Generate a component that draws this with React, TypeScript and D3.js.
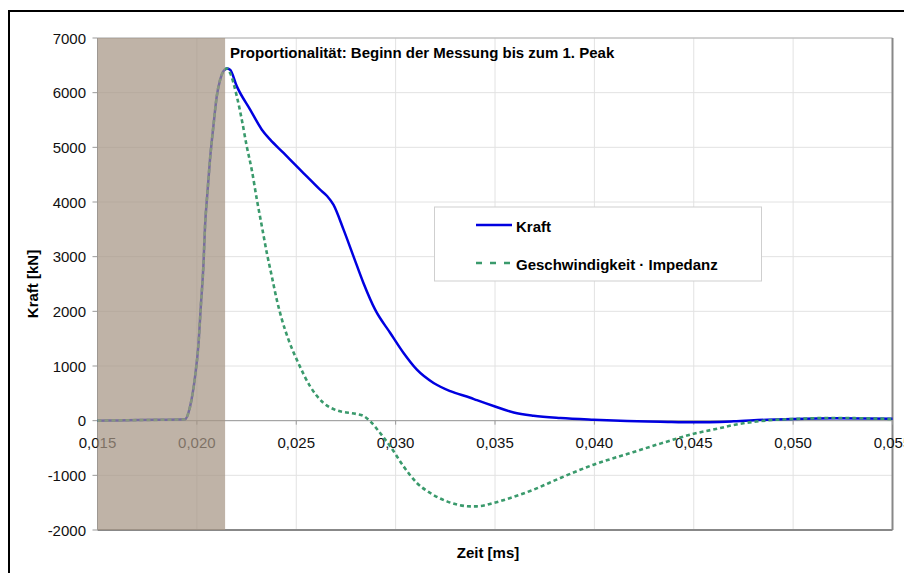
import * as d3 from "d3";

// Zeitachse (ms) und Kraftachse (kN)
const xTicks = [0.015, 0.02, 0.025, 0.03, 0.035, 0.04, 0.045, 0.05, 0.055];
const yTicks = [-2000, -1000, 0, 1000, 2000, 3000, 4000, 5000, 6000, 7000];

// Bereich Proportionalität (Beginn der Messung bis zum 1. Peak)
const shadeRange = [0.015, 0.02142];

// Kraft
const kraftT = [
  0.015, 0.016, 0.017, 0.018, 0.019, 0.0194, 0.01966, 0.01991, 0.02008, 0.0202,
  0.02033, 0.02041, 0.02053, 0.02066, 0.02083, 0.021, 0.02117, 0.02133, 0.02151,
  0.02167, 0.02201, 0.02268, 0.02327, 0.02369, 0.02436, 0.02469, 0.02519, 0.02553,
  0.0262, 0.02655, 0.02687, 0.02738, 0.02788, 0.02838, 0.02897, 0.02973, 0.0304, 0.03107,
  0.03191, 0.03275, 0.03376, 0.03409, 0.03493, 0.03594, 0.03694, 0.03829, 0.03996,
  0.04165, 0.04332, 0.045, 0.047, 0.04871, 0.05002, 0.05204, 0.055,
];
const kraftV = [
  0, 5, 10, 15, 20, 25, 262, 810, 1400, 2100,
  2850, 3554, 4165, 4774, 5383, 5932, 6237, 6389, 6440,
  6420, 6115, 5690, 5323, 5140, 4897, 4774, 4591, 4469,
  4225, 4110, 3950, 3494, 3006, 2519, 2030, 1604, 1238, 933,
  690, 540, 420, 375, 268, 150, 91, 49, 18,
  -5, -18, -31, -12, 18, 31, 42, 37,
];

// Geschwindigkeit · Impedanz
const geschT = [
  0.015, 0.016, 0.017, 0.018, 0.019, 0.0194, 0.01966, 0.01991, 0.02008, 0.0202,
  0.02033, 0.02041, 0.02053, 0.02066, 0.02083, 0.021, 0.02117, 0.02133, 0.02151,
  0.02167, 0.02201, 0.02226, 0.02251, 0.02276, 0.02302, 0.02327, 0.02352, 0.02377,
  0.02402, 0.02428, 0.02461, 0.02511, 0.0257, 0.02637, 0.02704, 0.02805, 0.02837,
  0.02872, 0.02922, 0.02973, 0.0304, 0.03107, 0.03174, 0.03258, 0.03376, 0.03409,
  0.03493, 0.03577, 0.03694, 0.03829, 0.03996, 0.04165, 0.04332, 0.045, 0.04634,
  0.047, 0.04871, 0.05002, 0.05204, 0.055,
];
const geschV = [
  0, 5, 10, 15, 20, 25, 262, 810, 1400, 2100,
  2850, 3554, 4165, 4774, 5383, 5932, 6237, 6389, 6440,
  6360, 5932, 5506, 5018, 4591, 4042, 3554, 3067, 2640,
  2213, 1848, 1482, 1050, 627, 324, 188, 120, 90,
  -12, -225, -470, -836, -1140, -1323, -1476, -1567, -1567,
  -1506, -1414, -1262, -1048, -805, -610, -420, -240, -134,
  -80, 5, 31, 49, 31,
];

const W = 904;
const H = 573;
const plot = { left: 97.5, right: 892.5, top: 38, bottom: 530 };
const font = "Arial, 'Liberation Sans', sans-serif";
const fs = 15;

const fmt = (t: number) => t.toFixed(3).replace(".", ",");

export default function App() {
  const x = d3.scaleLinear().domain([0.015, 0.055]).range([plot.left, plot.right]);
  const y = d3.scaleLinear().domain([-2000, 7000]).range([plot.bottom, plot.top]);

  const line = d3
    .line<[number, number]>()
    .x((d) => x(d[0]))
    .y((d) => y(d[1]))
    .curve(d3.curveMonotoneX);

  const kraft = kraftT.map((t, i) => [t, kraftV[i]] as [number, number]);
  const gesch = geschT.map((t, i) => [t, geschV[i]] as [number, number]);

  const y0 = y(0);

  return (
    <div style={{ position: "fixed", left: 0, top: 0 }}>
      <svg width={W} height={H} style={{ display: "block", background: "#fff" }}>
        {/* Rahmen */}
        <rect x={9} y={11} width={1000} height={1000} fill="none" stroke="#000" strokeWidth={2} />

        {/* Gitter */}
        <g stroke="#e2e2e2" strokeWidth={1}>
          {xTicks.map((t) => (
            <line key={t} x1={x(t)} x2={x(t)} y1={plot.top} y2={plot.bottom} />
          ))}
          {yTicks.map((v) => (
            <line key={v} x1={plot.left} x2={plot.right} y1={y(v)} y2={y(v)} />
          ))}
        </g>

        {/* Plotrahmen */}
        <line x1={plot.left} x2={plot.right} y1={plot.top} y2={plot.top} stroke="#b0b0b0" strokeWidth={1} />
        <line x1={plot.right} x2={plot.right} y1={plot.top} y2={plot.bottom} stroke="#888" strokeWidth={2} />
        <line x1={plot.left} x2={plot.right} y1={plot.bottom} y2={plot.bottom} stroke="#888" strokeWidth={2} />

        {/* Achsen */}
        <g stroke="#999" strokeWidth={1}>
          <line x1={plot.left} x2={plot.right} y1={y0} y2={y0} />
          {xTicks.map((t) => (
            <line key={t} x1={x(t)} x2={x(t)} y1={y0} y2={y0 + 4} />
          ))}
          <line x1={plot.left} x2={plot.left} y1={plot.top} y2={plot.bottom} />
          {yTicks.map((v) => (
            <line key={v} x1={plot.left - 5} x2={plot.left} y1={y(v)} y2={y(v)} />
          ))}
        </g>

        {/* Beschriftung der Achsen */}
        <g fontFamily={font} fontSize={fs} fill="#111">
          {yTicks.map((v) => (
            <text key={v} x={86} y={y(v) + 5.5} textAnchor="end">
              {v}
            </text>
          ))}
          {xTicks.map((t) => (
            <text key={t} x={x(t)} y={y0 + 27} textAnchor="middle">
              {fmt(t)}
            </text>
          ))}
        </g>

        {/* Kurven */}
        <path d={line(kraft) ?? ""} fill="none" stroke="#0000e0" strokeWidth={2.5} />
        <path
          d={line(gesch) ?? ""}
          fill="none"
          stroke="#3a9a6c"
          strokeWidth={2.6}
          strokeDasharray="4,3"
        />

        {/* Markierung */}
        <rect
          x={x(shadeRange[0])}
          y={plot.top}
          width={x(shadeRange[1]) - x(shadeRange[0])}
          height={plot.bottom - plot.top}
          fill="#a69585"
          opacity={0.72}
        />

        <text x={230} y={58} fontFamily={font} fontSize={fs} fontWeight="bold" fill="#000">
          Proportionalität: Beginn der Messung bis zum 1. Peak
        </text>

        {/* Legende */}
        <rect x={434.5} y={207} width={327} height={74} fill="#fff" stroke="#cfcfcf" strokeWidth={1} />
        <line x1={476} x2={512} y1={225} y2={225} stroke="#0000e0" strokeWidth={2.5} />
        <line x1={476} x2={512} y1={263} y2={263} stroke="#3a9a6c" strokeWidth={2.6} strokeDasharray="6,8" />
        <g fontFamily={font} fontSize={fs} fontWeight="bold" fill="#000">
          <text x={516} y={231.5}>Kraft</text>
          <text x={516} y={269.5}>Geschwindigkeit · Impedanz</text>
        </g>

        {/* Achsentitel */}
        <text
          transform={`translate(37.5,${(plot.top + plot.bottom) / 2}) rotate(-90)`}
          textAnchor="middle"
          fontFamily={font}
          fontSize={fs}
          fontWeight="bold"
          fill="#000"
        >
          Kraft [kN]
        </text>
        <text x={488} y={558} textAnchor="middle" fontFamily={font} fontSize={fs} fontWeight="bold" fill="#000">
          Zeit [ms]
        </text>
      </svg>
    </div>
  );
}
